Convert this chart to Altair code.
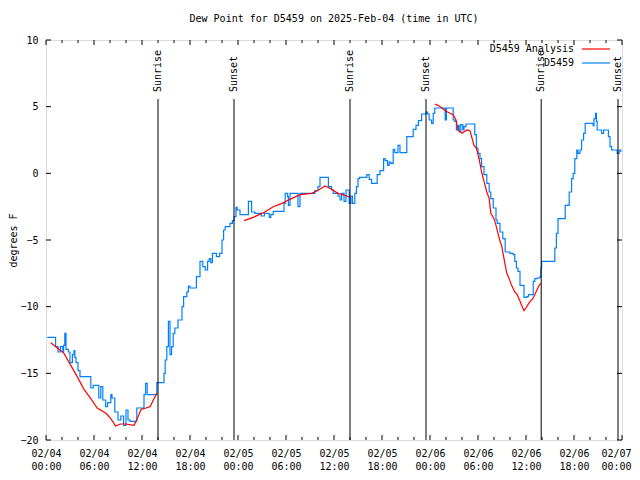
import altair as alt
import pandas as pd

# ---- data (hours since 2025-02-04 00:00 UTC, dew point in degrees F) ----
blue_h = [0.15, 1.1, 1.2, 1.5, 1.8, 2.1, 2.2, 2.35, 2.5, 2.8, 3.0, 3.3, 3.5, 3.6, 3.75, 4.0, 4.25, 5.4,
          5.6, 5.9, 6.3, 6.6, 6.85, 7.1, 7.45, 7.7, 8.1, 8.25, 8.6, 9.0, 9.35, 9.7, 10.0, 10.25, 10.5,
          11.1, 11.35, 12.0, 12.25, 12.45, 12.65, 13.7, 13.85, 14.5, 14.75, 14.9, 15.1, 15.3, 15.5,
          15.7, 15.9, 16.1, 16.5, 17.0, 17.2, 17.6, 17.8, 18.0, 18.6, 18.8, 19.25, 19.6, 19.9, 20.2,
          20.4, 20.6, 20.8, 21.3, 21.7, 22.0, 22.2, 22.4, 22.8, 23.0, 23.3, 23.5, 23.75, 23.9, 24.25,
          25.1, 25.3, 25.5, 25.7, 26.1, 26.9, 27.3, 27.9, 28.1, 28.4, 29.7, 29.75, 29.9, 30.2, 30.3,
          30.5, 31.3, 31.5, 31.75, 33.4, 33.6, 34.0, 34.25, 35.1, 35.3, 35.7, 35.9, 36.3, 36.5, 36.75,
          36.95, 37.25, 37.5, 37.8, 37.9, 38.1, 38.3, 38.6, 38.8, 39.0, 39.2, 39.9, 40.1, 40.4, 40.7,
          41.25, 41.4, 41.75, 42.1, 42.2, 42.4, 42.7, 42.9, 43.1, 43.4, 43.6, 44.0, 44.25, 44.9, 45.1,
          45.7, 45.9, 46.25, 46.55, 46.95, 47.5, 47.7, 47.9, 48.2, 48.4, 48.6, 49.9, 50.05, 50.8, 50.9,
          51.1, 51.3, 51.5, 51.65, 51.85, 52.1, 52.25, 52.5, 53.4, 53.6, 53.8, 54.0, 54.25, 54.45,
          54.75, 55.1, 55.4, 55.6, 55.9, 56.25, 56.4, 56.75, 57.1, 57.4, 57.7, 58.0, 58.4, 58.6, 58.8,
          59.0, 59.25, 59.6, 59.75, 60.1, 60.3, 60.85, 60.9, 61.1, 61.4, 61.75, 61.85, 61.95, 63.4,
          63.6, 63.8, 64.0, 64.6, 64.9, 65.2, 65.4, 65.7, 65.9, 66.1, 66.35, 66.5, 66.75, 66.95, 67.2,
          67.4, 68.2, 68.4, 68.5, 68.7, 68.8, 68.9, 69.25, 69.45, 69.7, 70.0, 70.3, 70.5, 70.7, 71.25,
          71.4, 71.65, 71.85]
blue_v = [-12.3, -12.3, -13.0, -13.4, -13.0, -13.4, -12.9, -12.0, -13.2, -13.4, -14.2, -13.6, -13.3,
          -13.8, -14.2, -14.8, -15.25, -15.25, -16.1, -15.9, -15.9, -16.85, -16.0, -17.0, -17.5,
          -17.2, -16.6, -16.85, -17.9, -18.5, -18.2, -18.9, -17.75, -18.5, -18.6, -18.6, -17.6,
          -17.6, -16.6, -15.75, -16.6, -16.6, -15.7, -15.7, -15.0, -14.0, -13.0, -11.1, -13.6,
          -13.0, -12.0, -11.6, -11.0, -10.0, -9.25, -8.9, -8.45, -8.6, -8.6, -7.75, -6.6, -7.0,
          -7.25, -6.6, -6.4, -6.7, -6.0, -6.25, -6.0, -5.0, -4.25, -4.0, -4.0, -3.75, -3.55, -3.25,
          -2.55, -2.75, -3.1, -3.1, -2.1, -2.1, -2.9, -3.0, -3.2, -3.0, -3.3, -3.1, -2.85, -2.85,
          -2.25, -1.5, -1.75, -2.4, -1.5, -1.5, -2.5, -1.5, -1.5, -1.3, -1.0, -0.3, -0.3, -1.0,
          -1.25, -1.5, -1.5, -1.7, -2.0, -1.5, -2.1, -1.25, -1.25, -2.25, -1.7, -2.25, -1.5, -1.0,
          -0.4, -0.3, -0.3, -0.1, -0.45, -0.75, -0.75, -0.1, 0.2, 0.2, 1.1, 0.95, 0.6, 0.85, 0.75,
          1.8, 1.55, 2.1, 1.55, 1.55, 2.75, 2.75, 3.3, 3.6, 3.95, 4.45, 4.6, 4.45, 4.0, 3.75, 4.5,
          4.9, 4.0, 4.9, 4.9, 4.0, 3.9, 3.25, 3.6, 3.1, 3.65, 3.25, 3.5, 3.7, 3.7, 2.9, 1.9, 1.5,
          1.1, 0.5, -0.1, -0.75, -1.4, -1.9, -2.6, -3.5, -3.75, -4.4, -4.9, -5.9, -5.9, -6.0, -6.1,
          -6.6, -7.1, -7.35, -8.4, -8.4, -9.3, -9.25, -9.1, -9.1, -8.1, -7.9, -7.85, -7.75, -7.1,
          -6.6, -6.6, -5.6, -4.5, -3.4, -3.4, -2.4, -2.4, -1.4, -0.4, 0.0, 1.1, 1.75, 1.5, 1.75,
          2.5, 3.0, 3.75, 3.75, 3.55, 4.1, 4.5, 3.9, 3.25, 3.25, 3.0, 3.25, 3.25, 2.75, 2.0, 1.75,
          1.75, 1.5, 1.75, 1.6]

red_h = [0.6, 2.25, 3.1, 3.9, 4.75, 5.6, 6.4, 7.5, 8.1, 8.7, 9.3, 9.95, 11.0, 11.4, 11.9, 12.5, 13.0,
         13.5, 13.85,
         24.75, 25.9, 27.2, 28.4, 29.5, 30.5, 31.75, 33.2, 33.9, 34.9, 35.7, 36.5, 37.6, 37.9,
         48.6, 49.0, 49.5, 49.9, 50.5, 50.9, 51.25, 51.5, 52.0, 52.6, 53.0, 53.2, 53.5, 53.8, 54.2,
         54.45, 54.75, 55.1, 55.4, 55.6, 56.0, 56.25, 56.5, 56.75, 56.95, 57.25, 57.6, 57.9, 58.2,
         58.6, 58.9, 59.25, 59.6, 59.75, 60.0, 60.4, 60.85, 61.25, 61.65, 61.85]
red_v = [-12.7, -13.5, -14.4, -15.25, -16.2, -16.9, -17.6, -18.0, -18.4, -18.95, -18.8, -18.8, -18.9,
         -18.4, -17.7, -17.6, -17.5, -16.9, -16.5,
         -3.55, -3.3, -2.95, -2.5, -2.25, -1.95, -1.6, -1.5, -1.3, -0.95, -1.2, -1.5, -1.7, -1.8,
         5.2, 5.1, 4.9, 4.7, 4.5, 4.4, 4.0, 3.25, 3.0, 3.25, 3.2, 2.75, 2.1, 1.9, 0.9, 0.1, -0.6,
         -1.4, -1.9, -3.0, -3.4, -3.9, -4.5, -5.1, -5.4, -6.4, -7.5, -7.9, -8.4, -8.9, -9.1, -9.6,
         -10.1, -10.3, -10.1, -9.7, -9.4, -8.9, -8.4, -8.25]

event_h = [14.0, 23.5, 38.0, 47.5, 61.9, 71.5]
event_lbl = ["Sunrise", "Sunset", "Sunrise", "Sunset", "Sunrise", "Sunset"]

tick_dates = ["02/04"] * 4 + ["02/05"] * 4 + ["02/06"] * 4 + ["02/07"]
tick_times = ["00:00", "06:00", "12:00", "18:00"] * 3 + ["00:00"]
major_x = [0, 6, 12, 18, 24, 30, 36, 42, 48, 54, 60, 66, 72]
minor_x = [2, 4, 8, 10, 14, 16, 20, 22, 26, 28, 32, 34, 38, 40, 44, 46, 50, 52, 56, 58, 62, 64, 68, 70]
y_ticks = [-20, -15, -10, -5, 0, 5, 10]

legend_names = ["D5459 Analysis", "D5459"]
legend_colors = ["#ff0000", "#0080ff"]

FONT = "DejaVu Sans Mono"
W, H = 576, 400

blue = pd.DataFrame({"h": blue_h, "v": blue_v})
red = pd.DataFrame({"h": red_h, "v": red_v})
red["seg"] = (red["h"].diff() > 3).cumsum()
events = pd.DataFrame({"h": event_h, "lbl": event_lbl})
majx = pd.DataFrame({"h": major_x})
minx = pd.DataFrame({"h": minor_x})
ytk = pd.DataFrame({"v": y_ticks})
leg = pd.DataFrame({"name": legend_names, "color": legend_colors, "row": [0, 1]})

xs = alt.Scale(domain=[0, 72], nice=False, zero=False)
ys = alt.Scale(domain=[-20, 10], nice=False, zero=False)

label_arr = "[" + ",".join(f"['{d}','{t}']" for d, t in zip(tick_dates, tick_times)) + "]"
x_axis = alt.Axis(values=major_x, labelExpr=f"{label_arr}[round(datum.value/6)]",
                  ticks=False, domain=False, grid=False, labelFont=FONT, labelFontSize=10,
                  labelColor="black", labelPadding=8, labelLineHeight=13, title=None,
                  labelAngle=0, labelFlush=False, labelOverlap=False,
                  labelOffset={"condition": {"test": f"datum.value >= {major_x[-1]}", "value": -6},
                               "value": 0})
y_axis = alt.Axis(values=y_ticks, ticks=False, domain=False, grid=False, labelFont=FONT,
                  labelFontSize=10, labelColor="black", labelPadding=8, title="degrees F",
                  titleFont=FONT, titleFontSize=10, titleFontWeight="normal", titleColor="black",
                  titlePadding=1, labelFlush=False, labelOverlap=False)

X = alt.X("h:Q", scale=xs, axis=x_axis)

blue_line = alt.Chart(blue).mark_line(color="#0080ff", strokeWidth=1.2, interpolate="step-after").encode(
    x=X,
    y=alt.Y("v:Q", scale=ys, axis=y_axis),
)
red_line = alt.Chart(red).mark_line(color="#ff0000", strokeWidth=1.2).encode(
    x=X,
    y=alt.Y("v:Q", scale=ys, axis=None),
    detail="seg:N",
)
ev_rules = alt.Chart(events).mark_rule(color="black", strokeWidth=1).encode(
    x=X, y=alt.value(59), y2=alt.value(H),
)
ev_text = alt.Chart(events).mark_text(angle=270, align="left", baseline="middle", font=FONT,
                                      fontSize=10, color="black").encode(
    x=X, y=alt.value(52), text="lbl:N",
)
tick_major_b = alt.Chart(majx).mark_rule(color="black").encode(
    x=X, y=alt.value(H), y2=alt.value(H - 5))
tick_major_t = alt.Chart(majx).mark_rule(color="black").encode(
    x=X, y=alt.value(0), y2=alt.value(5))
tick_minor_b = alt.Chart(minx).mark_rule(color="black").encode(
    x=X, y=alt.value(H), y2=alt.value(H - 3))
tick_minor_t = alt.Chart(minx).mark_rule(color="black").encode(
    x=X, y=alt.value(0), y2=alt.value(3))
tick_y_l = alt.Chart(ytk).mark_rule(color="black").encode(
    y=alt.Y("v:Q", scale=ys, axis=None), x=alt.value(0), x2=alt.value(5))
tick_y_r = alt.Chart(ytk).mark_rule(color="black").encode(
    y=alt.Y("v:Q", scale=ys, axis=None), x=alt.value(W - 5), x2=alt.value(W))

row_scale = alt.Scale(domain=[0, 1], range=[9, 23])
leg_text = alt.Chart(leg).mark_text(align="right", baseline="middle", font=FONT, fontSize=10,
                                    color="black").encode(
    x=alt.value(528),
    y=alt.Y("row:Q", axis=None, scale=row_scale),
    text="name:N",
)
leg_line = alt.Chart(leg).mark_rule(strokeWidth=1.2).encode(
    x=alt.value(536), x2=alt.value(564),
    y=alt.Y("row:Q", axis=None, scale=row_scale),
    color=alt.Color("color:N", scale=None, legend=None),
)

chart = alt.layer(
    blue_line, red_line, ev_rules, ev_text,
    tick_major_b, tick_major_t, tick_minor_b, tick_minor_t, tick_y_l, tick_y_r,
    leg_text, leg_line,
).resolve_scale(y="independent").properties(
    width=W, height=H,
    title=alt.TitleParams("Dew Point for D5459 on 2025-Feb-04 (time in UTC)", font=FONT,
                          fontSize=10, fontWeight="normal", color="black", anchor="middle",
                          offset=11),
    autosize=alt.AutoSizeParams(type="none"),
    padding={"left": 38, "top": 32, "right": 10, "bottom": 30},
).configure_view(stroke="black", strokeWidth=1).configure(background="white")

chart.save("out.html", embed_options={"renderer": "svg", "actions": False})
